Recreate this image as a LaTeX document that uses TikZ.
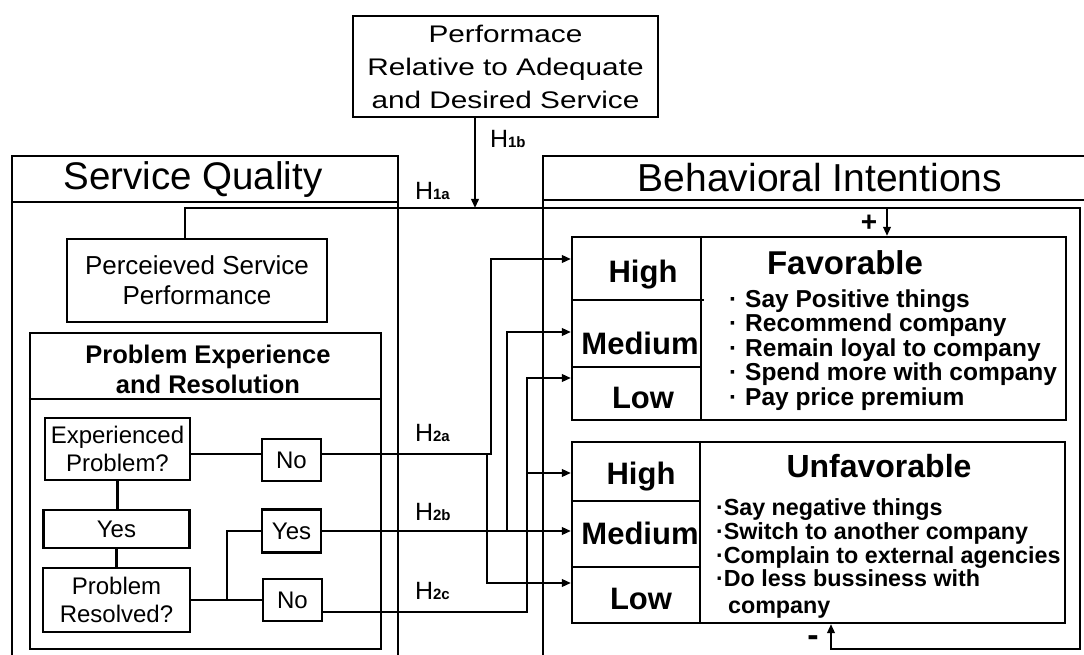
\documentclass[tikz,border=0pt]{standalone}
\usepackage{fontspec}
\setmainfont{Liberation Sans}
\newfontfamily\widefont[FakeStretch=1.24]{Liberation Sans}
\usetikzlibrary{arrows.meta,calc}
\newcommand{\fs}[2]{\fontsize{#1}{#2}\selectfont}
\newcommand{\Hlab}[1]{H{\bfseries\fs{15}{15}#1}}
\begin{document}
\begin{tikzpicture}[x=1pt,y=-1pt,line width=2.1pt,
  box/.style={draw,rectangle,inner sep=0pt,line width=2.2pt,align=center},
  lbl/.style={inner sep=0pt,anchor=base},
  hl/.style={inner sep=0pt,anchor=base west,font=\fs{25}{25}},
  lvl/.style={inner sep=0pt,anchor=base,font=\fs{31}{31}\bfseries},
  bul/.style={inner sep=0pt,anchor=base west,font=\fs{24.5}{24.5}\bfseries},
  bulu/.style={inner sep=0pt,anchor=base west,font=\fs{23.3}{23.3}\bfseries},
  arr/.style={-{Triangle[length=9pt,width=7.5pt]}},
  flow/.style={box,font=\fs{24}{28}}]
\useasboundingbox (0,0) rectangle (1084,655);

% top box
\node[box,minimum width=305pt,minimum height=101pt,font=\fs{24}{33}\widefont] (perf) at (505.5,66.5)
  {Performace\\Relative to Adequate\\and Desired Service};

% Service Quality frame
\draw (12,655) -- (12,156) -- (398,156) -- (398,655);
\draw (12,202) -- (398,202);
\node[lbl,font=\fs{38.5}{38.5}] (sqt) at (193,190) {Service Quality};

% Behavioral Intentions frame
\draw (543,655) -- (543,156) -- (1090,156);
\draw (543,200) -- (1090,200);
\node[lbl,font=\fs{39}{39}] (bit) at (820,192) {Behavioral Intentions};

% Perceived
\node[box,minimum width=260pt,minimum height=83pt,font=\fs{26}{30}] (perc) at (197,280.5)
  {Perceieved Service\\Performance};

% Problem experience box
\node[box,minimum width=351pt,minimum height=316pt] (prob) at (205.5,491) {};
\draw (prob.west |- 0,399) -- (prob.east |- 0,399);
\node[inner sep=0pt,align=center,font=\fs{25.5}{30}\bfseries] (probt) at (208,369)
  {Problem Experience\\and Resolution};

% flow boxes
\node[flow,minimum width=145pt,minimum height=62pt] (exp) at (117.5,449) {Experienced\\Problem?};
\node[flow,minimum width=146pt,minimum height=38pt] (yes1) at (116.5,529) {Yes};
\node[flow,minimum width=147pt,minimum height=64pt] (res) at (116.5,600) {Problem\\Resolved?};
\node[flow,minimum width=59pt,minimum height=42pt] (no1) at (291.5,460) {No};
\node[flow,minimum width=59pt,minimum height=43pt] (yes2) at (291.5,531) {Yes};
\node[flow,minimum width=59pt,minimum height=42pt] (no2) at (292.5,600) {No};

\draw (exp.east |- 0,454) -- (no1.west |- 0,454);
\draw (exp.south) -- (exp.south |- yes1.north);
\draw (yes1.south) -- (yes1.south |- res.north);
\draw (res.east) -- (no2.west);
\coordinate (br) at (227,600);
\draw (br) |- (yes2.west);

% Favorable box
\node[box,minimum width=494pt,minimum height=183pt] (fav) at (819,328.5) {};
\draw (fav.north -| 701,0) -- (fav.south -| 701,0);
\draw (fav.west |- 0,300) -- (704,300);
\draw (fav.west |- 0,367) -- (701,367);
\node[lvl] (fh) at (643,282) {High};
\node[lvl] (fm) at (640,354) {Medium};
\node[lvl] (fl) at (643,408) {Low};
\node[lbl,font=\fs{33}{33}\bfseries] (favt) at (845,274) {Favorable};
\node[bul] at (728,307) {·\hspace{8pt}Say Positive things};
\node[bul] at (728,331.5) {·\hspace{8pt}Recommend company};
\node[bul] at (728,356) {·\hspace{8pt}Remain loyal to company};
\node[bul] at (728,380.5) {·\hspace{8pt}Spend more with company};
\node[bul] at (728,405) {·\hspace{8pt}Pay price premium};

% Unfavorable box
\node[box,minimum width=493pt,minimum height=181pt] (unf) at (818.5,532.5) {};
\draw (unf.north -| 700,0) -- (unf.south -| 700,0);
\draw (unf.west |- 0,501) -- (700,501);
\draw (unf.west |- 0,567) -- (700,567);
\node[lvl] (uh) at (641,484) {High};
\node[lvl] (um) at (640,544) {Medium};
\node[lvl] (ul) at (641,609) {Low};
\node[lbl,font=\fs{32}{32}\bfseries] (unft) at (879,477) {Unfavorable};
\node[bulu] at (715,515) {·Say negative things};
\node[bulu] at (715,539) {·Switch to another company};
\node[bulu] at (715,563) {·Complain to external agencies};
\node[bulu] at (715,586) {·Do less bussiness with};
\node[bulu] at (727,613) {company};

% H1 connections
\coordinate (h1a) at (185,208);
\coordinate (j1b) at (475,208);
\coordinate (pj) at (887,208);
\coordinate (rc1) at (1080,208);
\coordinate (rc2) at (1080,649);
\coordinate (lp) at (831,649);
\draw[arr] (perf.south -| j1b) -- (j1b);
\draw[arr] (perc.north -| h1a) -- (h1a) -- (rc1) -- (rc2) -- (lp) -- (unf.south -| lp);
\draw[arr] (pj) -- (fav.north -| pj);
\node[lbl,font=\fs{28}{28}\bfseries] (plus) at (869,232) {+};
\node[lbl,font=\fs{34}{34}\bfseries] (minus) at (813,646) {-};

% H2 connections
\draw[arr] (no1.east |- 0,454) -- (491,454) |- (fav.west |- 0,259);
\draw[arr] (487,454) |- (unf.west |- 0,583);
\draw[arr] (yes2.east) -- (unf.west |- yes2.east);
\draw[arr] (507,531) |- (fav.west |- 0,332);
\draw[arr] (no2.east |- 0,612) -- (527,612) |- (fav.west |- 0,378);
\draw[arr] (527,473) -- (unf.west |- 0,473);

% labels
\node[hl] (l1b) at (489,148) {\Hlab{1b}};
\node[hl] (l1a) at (414,200) {\Hlab{1a}};
\node[hl] (l2a) at (414,441) {\Hlab{2a}};
\node[hl] (l2b) at (414,520) {\Hlab{2b}};
\node[hl] (l2c) at (414,599) {\Hlab{2c}};
\end{tikzpicture}
\end{document}
